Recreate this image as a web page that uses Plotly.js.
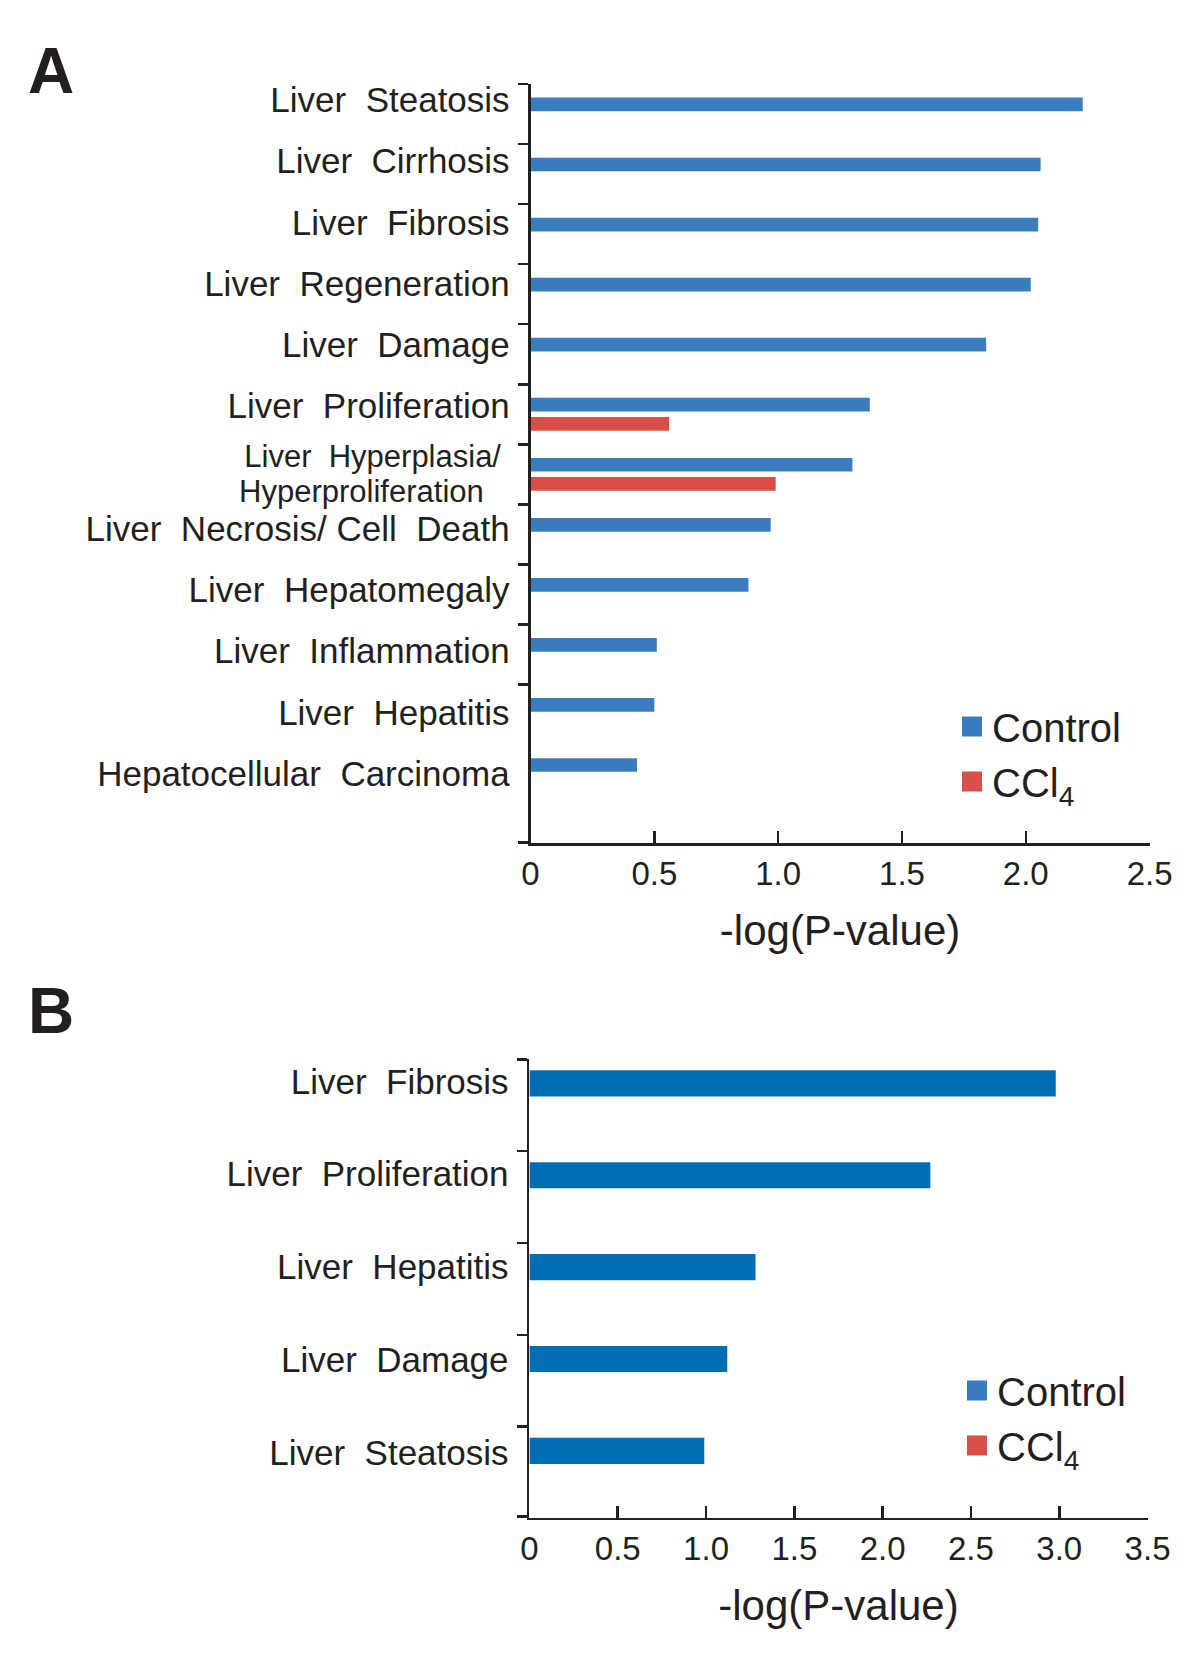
<!DOCTYPE html>
<html>
<head>
<meta charset="utf-8">
<script src="https://cdn.plot.ly/plotly-3.0.1.min.js"></script>
<style>
  html, body { margin: 0; padding: 0; background: #fff; }
  #chart { width: 1200px; height: 1657px; }
</style>
</head>
<body>
<div id="chart"></div>
<script>
// panel A: liver disease categories, top to bottom
const labelsA = [
  "Liver  Steatosis",
  "Liver  Cirrhosis",
  "Liver  Fibrosis",
  "Liver  Regeneration",
  "Liver  Damage",
  "Liver  Proliferation",
  "Liver  Hyperplasia/ <br>Hyperproliferation   ",
  "Liver  Necrosis/ Cell  Death",
  "Liver  Hepatomegaly",
  "Liver  Inflammation",
  "Liver  Hepatitis",
  "Hepatocellular  Carcinoma",
];
const controlA = [2.23, 2.06, 2.05, 2.02, 1.84, 1.37, 1.30, 0.97, 0.88, 0.51, 0.50, 0.43];
const ccl4A = [null, null, null, null, null, 0.56, 0.99, null, null, null, null, null];

// panel B
const labelsB = [
  "Liver  Fibrosis",
  "Liver  Proliferation",
  "Liver  Hepatitis",
  "Liver  Damage",
  "Liver  Steatosis",
];
const controlB = [2.98, 2.27, 1.28, 1.12, 0.99];

const xTicksA = [0, 0.5, 1, 1.5, 2, 2.5];
const xTickTextA = ["0", "0.5", "1.0", "1.5", "2.0", "2.5"];
const xTicksB = [0, 0.5, 1, 1.5, 2, 2.5, 3, 3.5];
const xTickTextB = ["0", "0.5", "1.0", "1.5", "2.0", "2.5", "3.0", "3.5"];

const BLUE = "#3a7dbe";
const RED = "#d94f48";
const BLUE_B = "#006eb4";
const INK = "#231f20";
const FONT = '"Liberation Sans", Arial, Helvetica, sans-serif';

const nbsp = (s) => s.replace(/ /g, "\u00a0");
const sized = (s, px) => '<span style="font-size:' + px + 'px">' + nbsp(s) + "</span>";
// single-line labels are a bit larger than the two-line one;
// the base tick font stays small so the two lines sit close together
const tickLabel = (s) =>
  s.includes("<br>")
    ? s.split("<br>").map((line) => sized(line, 31)).join("<br>")
    : sized(s, 35);

const idxA = labelsA.map((_, i) => i);
const idxB = labelsB.map((_, i) => i);

// labels sit slightly above the centre of each band
const labelPosA = idxA.map((i) => i * 1.02 - 0.19 + (labelsA[i].includes("<br>") ? 0.08 : 0));
const labelPosB = idxB.map((i) => i * 1.01 - 0.23);

const yRangeA = [12.14, -0.5];
const yRangeB = [4.49, -0.5];
const bandsA = idxA.slice(0, -1).map((i) => i - 0.5).concat([yRangeA[0] - 0.01]);
const bandsB = idxB.map((i) => i - 0.5).concat([yRangeB[0] - 0.01]);

const barA = (name, values, color, offset) => ({
  type: "bar",
  orientation: "h",
  name: name,
  x: values,
  y: idxA,
  offset: offset,
  width: 0.228,
  marker: { color: color },
  showlegend: false,
  hoverinfo: "x",
  xaxis: "x",
  yaxis: "y",
});

const legendItem = (name, color, legend, xa, ya) => ({
  type: "scatter",
  mode: "markers",
  name: name,
  x: [null],
  y: [null],
  marker: { symbol: "square", size: 16, color: color, line: { width: 4, color: color } },
  legend: legend,
  xaxis: xa,
  yaxis: ya,
  hoverinfo: "skip",
});

const traces = [
  barA("Control", controlA, BLUE, -0.274),
  barA("CCl4", ccl4A, RED, 0.045),
  {
    type: "bar",
    orientation: "h",
    name: "Control",
    x: controlB,
    y: idxB,
    offset: -0.38,
    width: 0.285,
    marker: { color: BLUE_B },
    showlegend: false,
    hoverinfo: "x",
    xaxis: "x2",
    yaxis: "y2",
  },
  legendItem("Control", BLUE, "legend", "x", "y"),
  legendItem("CCl<sub>4</sub>", RED, "legend", "x", "y"),
  legendItem("Control", BLUE, "legend2", "x2", "y2"),
  legendItem("CCl<sub>4</sub>", RED, "legend2", "x2", "y2"),
];

const xAxisStyle = {
  showline: true,
  linecolor: INK,
  linewidth: 2.5,
  ticks: "inside",
  ticklen: 12,
  tickwidth: 2.5,
  tickcolor: INK,
  showgrid: false,
  zeroline: false,
  tickmode: "array",
  tickfont: { size: 33, color: INK },
  ticklabelstandoff: 0,
  fixedrange: true,
};

const yAxisStyle = {
  showline: true,
  linecolor: INK,
  linewidth: 2.5,
  ticks: "",
  showgrid: false,
  zeroline: false,
  tickmode: "array",
  tickfont: { size: 27, color: INK },
  ticklabelstandoff: 13,
  fixedrange: true,
};

const minorTicks = (vals) => ({
  tickmode: "array",
  tickvals: vals,
  ticks: "outside",
  ticklen: 10,
  tickwidth: 2.5,
  tickcolor: INK,
  showgrid: false,
});

const axisTitle = (standoff) => ({
  text: "-log(P-value)",
  font: { size: 42, color: INK },
  standoff: standoff,
});

const panelLetter = (letter, yPx) => ({
  text: "<b>" + letter + "</b>",
  xref: "paper",
  yref: "paper",
  x: 51 / 1200,
  y: 1 - yPx / 1657,
  xanchor: "center",
  yanchor: "middle",
  showarrow: false,
  font: { size: 64, color: INK },
});

const layout = {
  width: 1200,
  height: 1657,
  margin: { l: 0, r: 0, t: 0, b: 0 },
  paper_bgcolor: "#fff",
  plot_bgcolor: "rgba(0,0,0,0)",
  font: { family: FONT, color: INK },
  barmode: "overlay",
  xaxis: Object.assign({}, xAxisStyle, {
    domain: [0.4421, 0.958],
    anchor: "y",
    range: [0, 2.5],
    tickvals: xTicksA,
    ticktext: xTickTextA,
    title: axisTitle(25),
  }),
  yaxis: Object.assign({}, yAxisStyle, {
    domain: [0.4912, 0.9493],
    anchor: "x",
    range: yRangeA,
    tickvals: labelPosA,
    ticktext: labelsA.map(tickLabel),
    minor: minorTicks(bandsA),
  }),
  xaxis2: Object.assign({}, xAxisStyle, {
    domain: [0.4412, 0.9563],
    anchor: "y2",
    range: [0, 3.5],
    tickvals: xTicksB,
    ticktext: xTickTextB,
    title: axisTitle(25),
  }),
  yaxis2: Object.assign({}, yAxisStyle, {
    domain: [0.0841, 0.3607],
    anchor: "x2",
    range: yRangeB,
    tickvals: labelPosB,
    ticktext: labelsB.map(tickLabel),
    minor: minorTicks(bandsB),
  }),
  legend: {
    x: 952 / 1200,
    y: 1 - 694 / 1657,
    xanchor: "left",
    yanchor: "top",
    bgcolor: "rgba(0,0,0,0)",
    font: { size: 40, color: INK },
    tracegroupgap: 0,
  },
  legend2: {
    x: 957 / 1200,
    y: 1 - 1358 / 1657,
    xanchor: "left",
    yanchor: "top",
    bgcolor: "rgba(0,0,0,0)",
    font: { size: 40, color: INK },
    tracegroupgap: 0,
  },
  annotations: [panelLetter("A", 71), panelLetter("B", 1011)],
};

const chart = document.getElementById("chart");
Plotly.newPlot(chart, traces, layout, { displayModeBar: false, staticPlot: true });
</script>
</body>
</html>
